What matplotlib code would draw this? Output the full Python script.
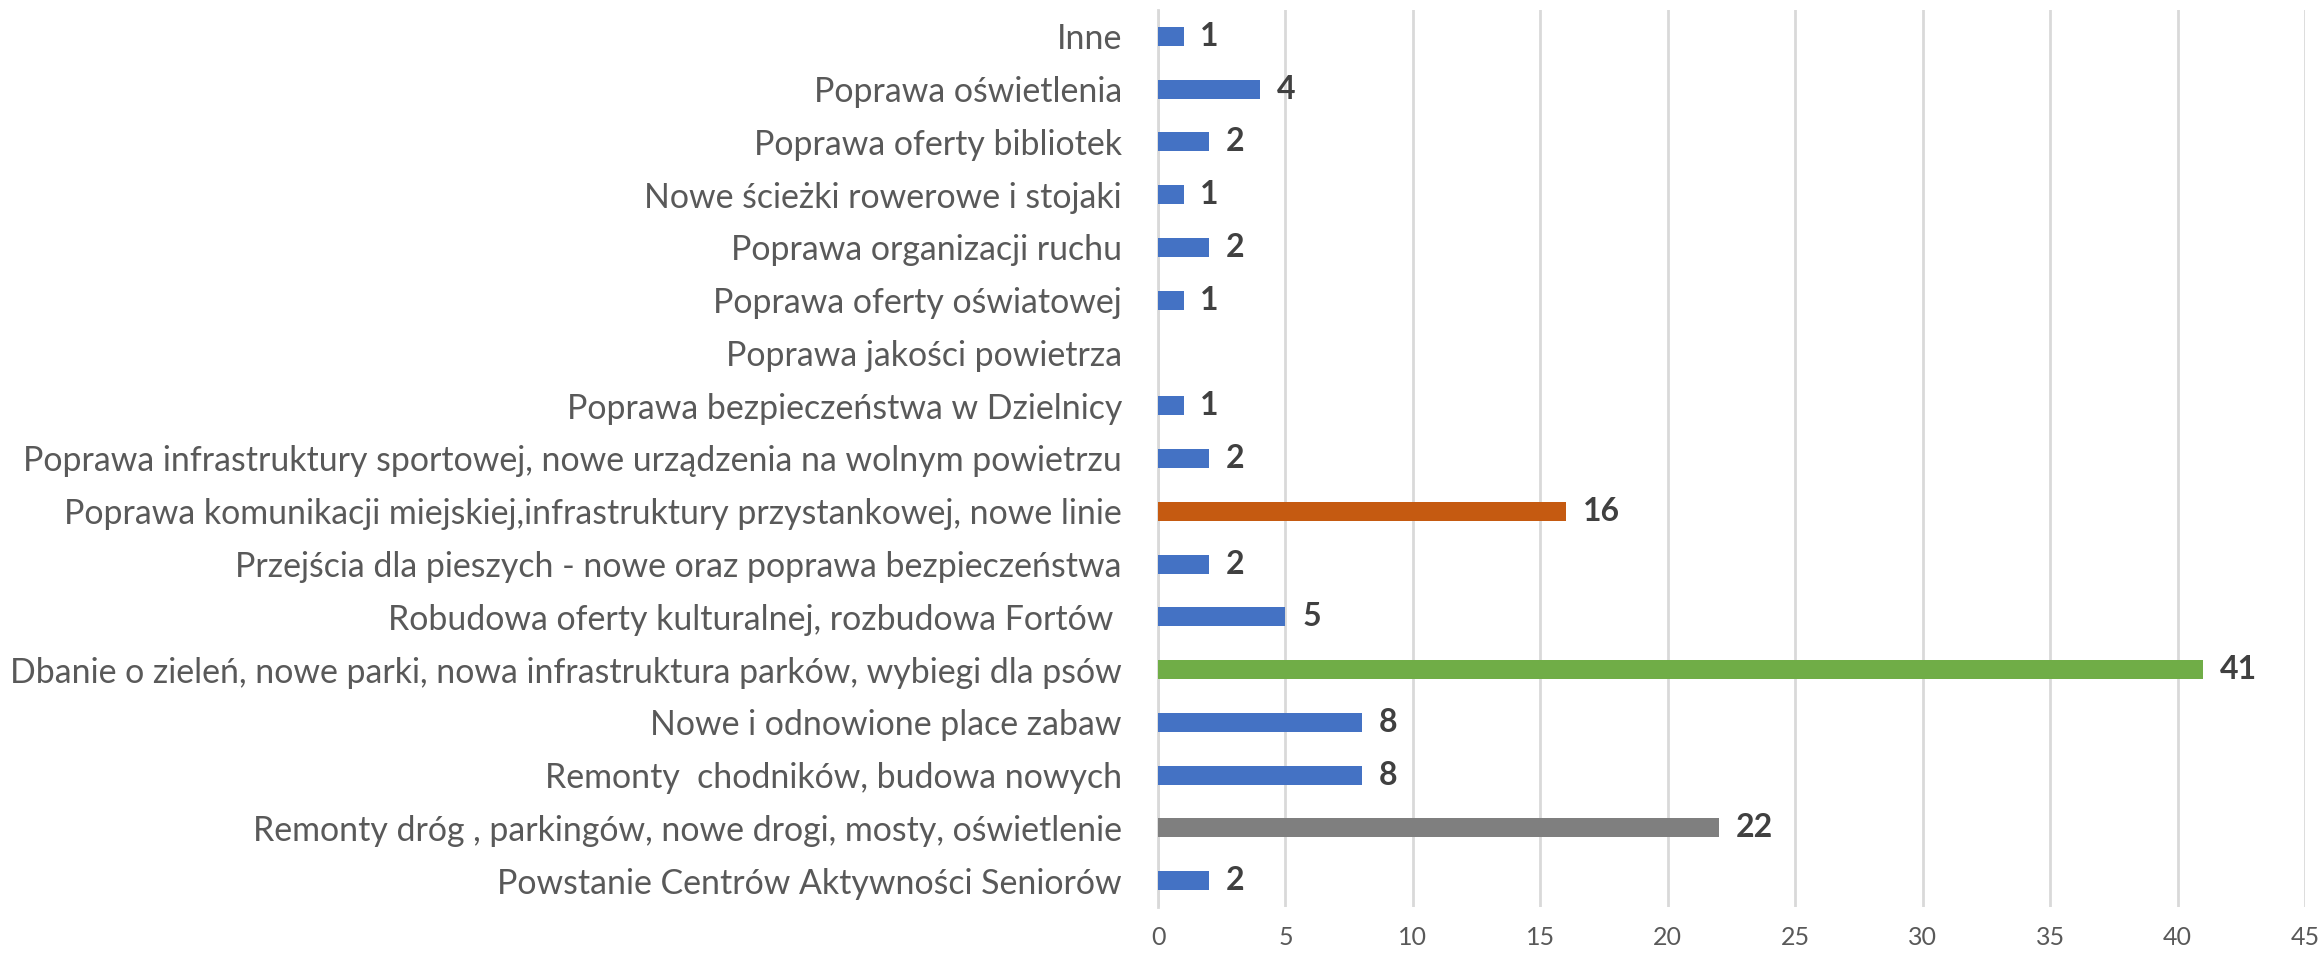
import matplotlib
matplotlib.use("Agg")
import matplotlib.pyplot as plt
import numpy as np

# categories listed top to bottom as in the chart
CATEGORIES = [
    "Inne",
    "Poprawa oświetlenia",
    "Poprawa oferty bibliotek",
    "Nowe ścieżki rowerowe i stojaki",
    "Poprawa organizacji ruchu",
    "Poprawa oferty oświatowej",
    "Poprawa jakości powietrza",
    "Poprawa bezpieczeństwa w Dzielnicy",
    "Poprawa infrastruktury sportowej, nowe urządzenia na wolnym powietrzu",
    "Poprawa komunikacji miejskiej,infrastruktury przystankowej, nowe linie",
    "Przejścia dla pieszych - nowe oraz poprawa bezpieczeństwa",
    "Robudowa oferty kulturalnej, rozbudowa Fortów ",
    "Dbanie o zieleń, nowe parki, nowa infrastruktura parków, wybiegi dla psów",
    "Nowe i odnowione place zabaw",
    "Remonty  chodników, budowa nowych",
    "Remonty dróg , parkingów, nowe drogi, mosty, oświetlenie",
    "Powstanie Centrów Aktywności Seniorów",
]
VALUES = [1, 4, 2, 1, 2, 1, None, 1, 2, 16, 2, 5, 41, 8, 8, 22, 2]

BLUE = "#4472C4"
HIGHLIGHT = {
    "Poprawa komunikacji miejskiej,infrastruktury przystankowej, nowe linie": "#C55A11",
    "Dbanie o zieleń, nowe parki, nowa infrastruktura parków, wybiegi dla psów": "#70AD47",
    "Remonty dróg , parkingów, nowe drogi, mosty, oświetlenie": "#7F7F7F",
}

XTICKS = [0, 5, 10, 15, 20, 25, 30, 35, 40, 45]

plt.rcParams["font.family"] = ["Lato", "DejaVu Sans"]

fig = plt.figure(figsize=(23.23, 9.56), dpi=100)
ax = fig.add_axes([0.4985, 0.0513, 0.4938, 0.9382])

y = np.arange(len(CATEGORIES))
vals = np.array([np.nan if v is None else v for v in VALUES], dtype=float)
colors = [HIGHLIGHT.get(c, BLUE) for c in CATEGORIES]

ax.barh(y, np.nan_to_num(vals), height=0.36, color=colors, zorder=3)

for yi, v in zip(y, vals):
    if np.isnan(v):
        continue
    ax.annotate(f"{int(v)}", (v, yi), xytext=(12, 0), textcoords="offset points",
                ha="left", va="center", fontsize=23, fontweight="bold",
                color="#404040")

ax.set_ylim(len(CATEGORIES) - 0.5, -0.5)
ax.set_xlim(0, 45)
ax.set_xticks(XTICKS)
ax.set_yticks(y)
ax.set_yticklabels(CATEGORIES, fontsize=24.4, color="#595959")
ax.tick_params(axis="y", length=0, pad=26)
ax.tick_params(axis="x", length=0, pad=14, labelsize=18, labelcolor="#595959")

ax.grid(axis="x", color="#d9d9d9", linewidth=2, zorder=0)
for s in ["top", "right", "bottom"]:
    ax.spines[s].set_visible(False)
ax.spines["left"].set_color("#d9d9d9")
ax.spines["left"].set_linewidth(2)

fig.savefig("out.png", dpi=100)
